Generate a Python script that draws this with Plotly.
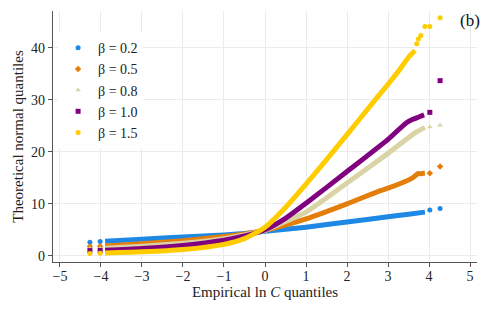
import plotly.graph_objects as go

labels = ["β = 0.2", "β = 0.5", "β = 0.8", "β = 1.0", "β = 1.5"]
colors = ["#1E88E5", "#E37E0A", "#D9D3A6", "#800080", "#FFCC00"]
symbols = ["circle", "diamond", "triangle-up", "square", "circle"]

# dense body of each series (x, y)
x_blue = [-3.9, -3, -2, -1, -0.5, 0, 0.5, 1, 2, 3, 3.5, 3.9]
y_blue = [2.8, 3.2, 3.6, 4.0, 4.3, 4.7, 5.1, 5.5, 6.5, 7.5, 8.0, 8.4]
x_orange = [-3.9, -3, -2, -1, -0.5, 0, 0.5, 1, 2, 2.8, 3, 3.6, 3.73, 3.8, 3.9]
y_orange = [1.9, 2.3, 2.9, 3.7, 4.2, 4.9, 5.9, 7.1, 10.0, 12.5, 13.0, 15.0, 15.8, 15.8, 15.9]
x_tan = [-3.9, -3, -2, -1, -0.5, 0, 0.5, 1, 2, 3, 3.65, 3.9]
y_tan = [1.45, 1.85, 2.4, 3.3, 4.0, 4.9, 6.6, 8.4, 14.0, 19.7, 23.6, 24.7]
x_purple = [-3.9, -3, -2, -1, -0.5, 0, 0.5, 1, 2, 3, 3.45, 3.62, 3.75, 3.88]
y_purple = [1.05, 1.4, 2.0, 3.0, 3.8, 5.0, 7.2, 10.1, 16.2, 22.4, 25.6, 26.3, 26.7, 27.1]
x_yellow = [-3.9, -3, -2, -1, -0.5, 0, 0.5, 1, 1.5, 2, 2.5, 3, 3.3, 3.5, 3.66]
y_yellow = [0.55, 0.75, 1.2, 2.2, 3.3, 5.5, 9.3, 13.8, 18.5, 23.3, 28.2, 33.0, 36.0, 38.2, 39.5]

# sparse tail points
tx_blue = [-4.27, -4.02, 4.02, 4.27]
ty_blue = [2.6, 2.75, 8.8, 9.1]
tx_orange = [-4.27, -4.02, 4.02, 4.27]
ty_orange = [1.8, 1.85, 15.9, 17.2]
tx_tan = [-4.27, -4.02, 4.02, 4.27]
ty_tan = [1.4, 1.42, 24.8, 25.1]
tx_purple = [-4.27, -4.02, 4.02, 4.27]
ty_purple = [1.0, 1.02, 27.6, 33.7]
tx_yellow = [-4.27, -4.02, 3.7, 3.74, 3.8, 3.9, 4.02, 4.27]
ty_yellow = [0.45, 0.5, 40.8, 41.7, 42.4, 44.1, 44.1, 45.8]

body = [(x_blue, y_blue), (x_orange, y_orange), (x_tan, y_tan),
        (x_purple, y_purple), (x_yellow, y_yellow)]
tails = [(tx_blue, ty_blue), (tx_orange, ty_orange), (tx_tan, ty_tan),
         (tx_purple, ty_purple), (tx_yellow, ty_yellow)]

font = "Liberation Serif"
fig = go.Figure()
for i in range(5):
    bx, by = body[i]
    tx, ty = tails[i]
    fig.add_trace(go.Scatter(x=bx, y=by, mode="lines", line=dict(color=colors[i], width=5, shape="spline", smoothing=0.6),
                             showlegend=False, hoverinfo="skip"))
    fig.add_trace(go.Scatter(x=tx, y=ty, mode="markers", name=labels[i],
                             marker=dict(color=colors[i], size=5, symbol=symbols[i])))

axis_common = dict(showgrid=True, gridcolor="#EBEBEB", gridwidth=1, zeroline=False,
                   showline=True, linecolor="#555555", linewidth=1.2, automargin=False,
                   ticks="outside", ticklen=4, tickcolor="#555555",
                   tickfont=dict(family=font, size=14, color="#222222"))
fig.update_layout(
    width=480, height=303,
    margin=dict(l=45, r=11, t=3, b=49),
    plot_bgcolor="white", paper_bgcolor="white",
    font=dict(family=font, size=14, color="#222222"),
    xaxis=dict(range=[-5.17, 5.17], tickvals=[-5, -4, -3, -2, -1, 0, 1, 2, 3, 4, 5],
               ticktext=["−5", "−4", "−3", "−2", "−1", "0", "1", "2", "3", "4", "5"],
               ticklabelstandoff=-3,
               title=dict(text="Empirical ln <i>C</i> quantiles", standoff=0,
                          font=dict(family=font, size=15, color="#222222")), **axis_common),
    yaxis=dict(range=[-1.2, 47.1], tickvals=[0, 10, 20, 30, 40],
               title=dict(text="Theoretical normal quantiles", standoff=3,
                          font=dict(family=font, size=15, color="#222222")), **axis_common),
    legend=dict(x=0.012, y=0.916, xanchor="left", yanchor="top", bgcolor="white",
                font=dict(family=font, size=14, color="#222222"), itemwidth=30,
                tracegroupgap=0),
    showlegend=True,
)
fig.add_annotation(text="(b)", xref="paper", yref="paper", x=1.012, y=1.008, xanchor="right", yanchor="top",
                   showarrow=False, font=dict(family=font, size=17, color="#111111"))
fig.write_html("out.html")
